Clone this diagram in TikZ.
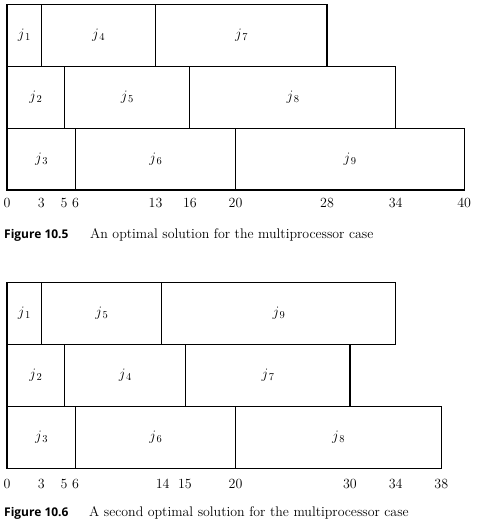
\documentclass[tikz,border=0pt]{standalone}
\usepackage{fontspec}
\usetikzlibrary{positioning}
\newfontfamily\capsans{Open Sans}
\newcommand{\joblbl}[1]{$j$\kern0.6pt\raisebox{-2pt}{\fontsize{10.5}{12}\selectfont #1}}

\begin{document}
\begin{tikzpicture}[
    x=11.43pt, y=1pt,
    jobbox/.style={
        rectangle,
        draw=black,
        line width=1.2pt,
        inner sep=0pt,
        outer sep=0pt,
        anchor=south west,
        font=\fontsize{14.5}{16}\selectfont
    },
    ticklabel/.style={anchor=base, inner sep=0pt, font=\fontsize{14}{16}\selectfont},
    capnum/.style={anchor=base west, inner sep=0pt, font=\capsans\bfseries\fontsize{12}{15}\selectfont},
    captext/.style={anchor=base west, inner sep=0pt, font=\fontsize{13.9}{16}\selectfont}
]
    \useasboundingbox (-7pt,-337pt) rectangle (480pt,190pt);

    % Figure 10.5
    \foreach \s/\e/\r/\k in {0/3/1/1, 3/13/1/4, 13/28/1/7,
                             0/5/2/2, 5/16/2/5, 16/34/2/8,
                             0/6/3/3, 6/20/3/6, 20/40/3/9} {
        \node[jobbox, minimum width={(\e-\s)*11.43pt}, minimum height=61.8pt]
            (a-j\k) at (\s, {(3-\r)*61.8}) {\joblbl{\k}};
    }
    \foreach \t in {0,3,5,6,13,16,20,28,34,40}
        \node[ticklabel] (a-t\t) at (\t, -17.3) {\t};
    \node[capnum] (a-capnum) at (-3pt, -48.5pt) {Figure 10.5};
    \node[captext] (a-captext) at (83pt, -48.5pt) {An optimal solution for the multiprocessor case};

    % Figure 10.6
    \begin{scope}[yshift=-278.3pt]
    \foreach \s/\e/\r/\k in {0/3/1/1, 3/13.55/1/5, 13.55/34/1/9,
                             0/5/2/2, 5/15.65/2/4, 15.65/30/2/7,
                             0/6/3/3, 6/20/3/6, 20/38/3/8} {
        \node[jobbox, minimum width={(\e-\s)*11.43pt}, minimum height=62pt]
            (b-j\k) at (\s, {(3-\r)*62}) {\joblbl{\k}};
    }
    \foreach \t/\x in {0/0,3/3,5/5,6/6,14/13.62,15/15.57,20/20,30/30,34/34,38/38}
        \node[ticklabel] (b-t\t) at (\x, -20) {\t};
    \node[capnum] (b-capnum) at (-3pt, -48.4pt) {Figure 10.6};
    \node[captext] (b-captext) at (82pt, -48.4pt) {A second optimal solution for the multiprocessor case};
    \end{scope}
\end{tikzpicture}
\end{document}
